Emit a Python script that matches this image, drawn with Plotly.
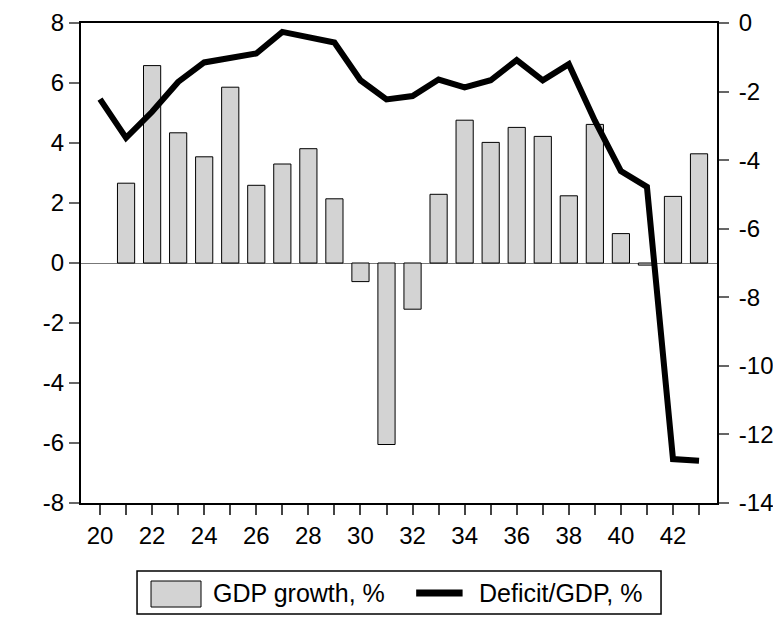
import plotly.graph_objects as go

# years (two-digit labels on the x axis)
years = list(range(20, 44))

# GDP growth, % (left axis) - no bar for year 20
gdp_growth = [None, 2.66, 6.58, 4.34, 3.54, 5.86, 2.59, 3.30, 3.81, 2.14,
              -0.62, -6.05, -1.54, 2.29, 4.76, 4.02, 4.52, 4.22, 2.24, 4.62,
              0.98, -0.07, 2.22, 3.64]

# Deficit/GDP, % (right axis)
deficit_gdp = [-2.22, -3.35, -2.59, -1.72, -1.15, -1.02, -0.89, -0.26, -0.43, -0.57,
               -1.67, -2.23, -2.13, -1.65, -1.88, -1.67, -1.08, -1.67, -1.20, -2.85,
               -4.32, -4.78, -12.72, -12.77]

# tick labels (plain hyphen minus, as in the original)
left_ticks = [-8, -6, -4, -2, 0, 2, 4, 6, 8]
right_ticks = [-14, -12, -10, -8, -6, -4, -2, 0]

font_family = "Liberation Sans, Arial, sans-serif"

fig = go.Figure()

fig.add_trace(go.Bar(
    x=years, y=gdp_growth, name="GDP growth, %",
    width=0.66,
    marker=dict(color="#d3d3d3", line=dict(color="black", width=1)),
    yaxis="y", showlegend=False,
))

fig.add_trace(go.Scatter(
    x=years, y=deficit_gdp, name="Deficit/GDP, %",
    mode="lines",
    line=dict(color="black", width=6),
    yaxis="y2", showlegend=False,
))

# legend drawn by hand below the plot (box, swatches, labels)
fig.add_shape(type="rect", xref="paper", yref="paper",
              x0=0.0881, x1=0.912, y0=-0.2313, y1=-0.1417,
              line=dict(color="black", width=1.5), fillcolor="white")
fig.add_shape(type="rect", xref="paper", yref="paper",
              x0=0.1101, x1=0.1887, y0=-0.2167, y1=-0.1625,
              line=dict(color="black", width=1), fillcolor="#d3d3d3")
fig.add_shape(type="line", xref="paper", yref="paper",
              x0=0.527, x1=0.600, y0=-0.1875, y1=-0.1875,
              line=dict(color="black", width=7))
fig.add_annotation(text="GDP growth, %", xref="paper", yref="paper",
                   x=0.2044, y=-0.1875, xanchor="left", yanchor="middle",
                   showarrow=False, font=dict(size=25))
fig.add_annotation(text="Deficit/GDP, %", xref="paper", yref="paper",
                   x=0.6226, y=-0.1875, xanchor="left", yanchor="middle",
                   showarrow=False, font=dict(size=25))

# page body has an 8px margin, so the figure is a bit smaller than the window
fig.update_layout(
    width=773, height=609,
    margin=dict(l=73, r=64, t=15, b=114),
    paper_bgcolor="white",
    plot_bgcolor="white",
    font=dict(family=font_family, size=24, color="black"),
    showlegend=False,
    xaxis=dict(
        range=[19.27, 43.69],
        tick0=20, dtick=2,
        ticks="outside", ticklen=10, tickcolor="#444444", tickwidth=1.5,
        minor=dict(dtick=1, tick0=20, ticks="outside", ticklen=10,
                   tickcolor="#444444", tickwidth=1.5),
        showline=True, linecolor="black", linewidth=2, mirror=True,
        showgrid=False, zeroline=False, automargin=False,
    ),
    yaxis=dict(
        range=[-8, 8],
        tickvals=left_ticks, ticktext=[str(v) for v in left_ticks],
        ticks="outside", ticklen=10, tickcolor="#666666", tickwidth=1.5,
        showline=True, linecolor="black", linewidth=2,
        showgrid=False, automargin=False,
        zeroline=True, zerolinecolor="#777777", zerolinewidth=1,
    ),
    yaxis2=dict(
        range=[-14, 0],
        tickvals=right_ticks, ticktext=[str(v) for v in right_ticks],
        overlaying="y", side="right",
        ticks="outside", ticklen=10, tickcolor="#666666", tickwidth=1.5,
        ticklabelstandoff=5,
        showline=True, linecolor="black", linewidth=2,
        showgrid=False, zeroline=False, automargin=False,
    ),
)

fig.write_html("out.html")
